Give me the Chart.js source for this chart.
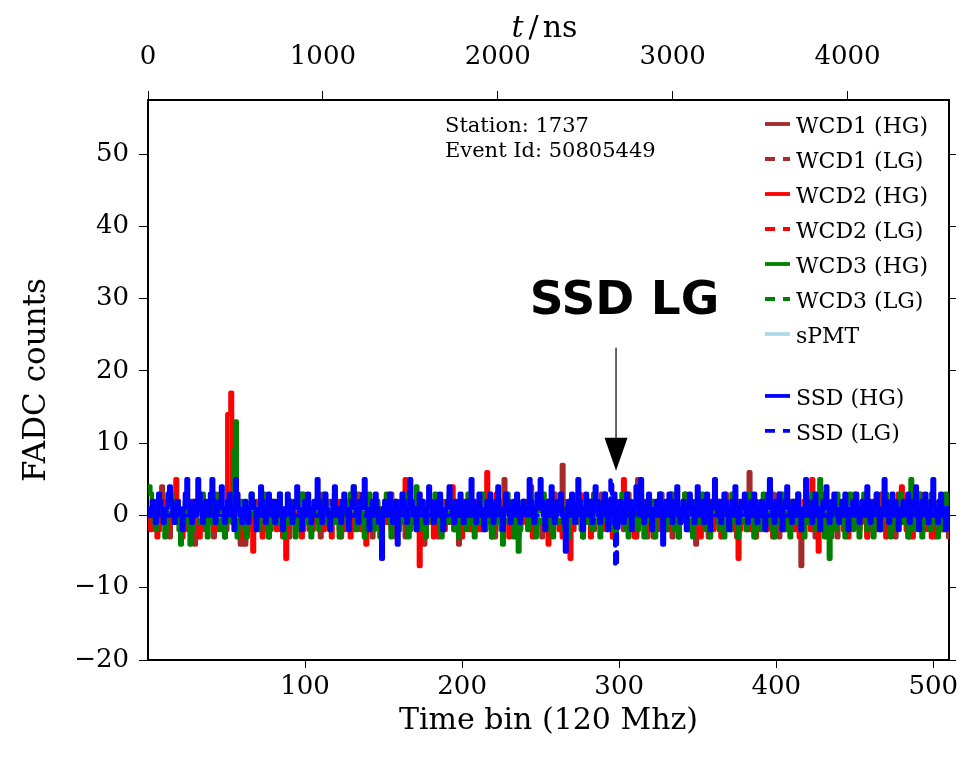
<!DOCTYPE html>
<html>
<head>
<meta charset="utf-8">
<script src="https://cdn.jsdelivr.net/npm/chart.js@4.4.1/dist/chart.umd.min.js"></script>
<style>
  html, body { margin: 0; padding: 0; background: #fff; }
  canvas { display: block; }
</style>
</head>
<body>
<canvas id="trace" width="978" height="757"></canvas>
<script>
// FADC traces, one value per 120 MHz time bin (bins 1..510)
const wcd1Hg = [
  0,-1,-1,1,2,0,-2,1,4,1,0,-1,-2,-3,-1,0,1,1,2,0,-1,0,-2,-2,1,0,-1,2,1,-4,
  -1,0,1,2,1,-1,-2,0,0,1,-1,-3,-2,0,1,3,1,0,-1,-2,0,1,0,-1,2,1,-1,-2,-4,-1,
  0,-4,-1,1,0,2,1,-1,-2,-1,0,2,3,1,0,-1,-3,-2,0,1,-1,0,2,1,-2,-1,0,1,-1,-3,
  -1,1,2,0,-1,-2,0,1,3,1,-1,0,-2,-1,1,0,2,1,-1,-3,-2,0,1,0,-1,2,2,0,-1,1,
  0,-2,-3,-1,0,1,2,1,-1,0,-2,-1,1,3,2,0,-1,-2,0,1,1,-1,-3,-1,0,2,1,0,-2,-1,
  1,0,-1,2,3,1,-1,-2,0,-1,1,2,0,-3,-1,0,1,-1,2,1,0,-2,-1,1,0,-4,-2,0,2,1,
  -1,0,1,-2,-3,-1,0,2,1,0,-1,1,3,0,-2,-1,1,-4,-1,0,2,1,-1,0,-2,-1,1,2,0,-1,
  1,-1,-2,0,1,3,1,-1,0,-2,-3,-1,1,2,0,-1,5,1,-1,0,-2,1,2,0,-1,-3,-1,0,1,2,
  0,-1,1,4,1,-1,-2,0,1,-1,-3,-2,0,1,2,0,-1,1,3,1,-1,0,-2,7,2,-1,-3,0,1,-1,
  -2,0,1,2,0,-1,-3,-1,1,0,2,1,-1,-2,0,1,-1,2,3,0,-1,-2,0,1,-1,-3,0,2,1,-1,
  0,1,-2,-1,2,3,0,-1,1,-2,-3,5,1,-1,0,2,-1,-3,-1,0,1,2,0,-2,-1,1,3,0,-1,-2,
  0,1,-1,-3,-2,0,2,1,-1,0,1,3,1,-1,-2,0,1,-1,-4,-1,1,2,0,-1,1,-2,-3,0,2,1,
  -1,0,2,1,-2,-1,0,3,1,-1,-2,0,1,-1,-3,0,2,1,-1,0,1,-2,6,2,0,-1,-3,-1,1,0,
  2,1,-1,-2,0,1,-1,3,1,0,-2,-3,-1,1,0,2,-1,0,1,-2,-1,1,2,0,-3,-7,-1,1,0,-1,
  1,2,0,-1,-3,-2,0,1,3,1,-1,0,-2,-1,1,2,0,-1,-3,0,1,-1,2,1,-1,-2,0,1,-1,3,
  1,0,-2,-1,1,2,0,-3,-1,0,2,1,-1,-2,0,1,3,0,-1,-2,1,0,-1,2,1,-3,-1,0,2,0,
  -1,1,0,-2,-3,0,2,1,-1,0,1,3,1,-1,-2,0,-1,2,1,0,-3,-1,1,2,0,-1,-2,1,0,-3
];
const wcd2Hg = [
  -1,-2,0,1,-1,-3,-2,0,1,2,0,-1,-2,-1,1,0,2,5,1,-1,-2,-3,-1,0,1,-1,-2,0,2,1,
  0,-1,-3,-2,0,1,-1,0,2,1,-1,-2,0,-1,1,2,0,-2,-3,-1,14,14,17,2,-1,-2,0,1,-1,-3,
  -2,0,1,-1,0,-2,-5,-1,1,2,0,-1,-3,-2,0,1,-1,0,2,1,-1,-2,0,1,-1,-3,-2,-6,-1,1,
  2,0,-1,-2,-1,1,0,-3,-2,0,1,2,1,-1,-2,0,-1,1,3,0,-1,-2,-1,0,1,-1,-3,0,1,-1,
  0,2,1,-1,-2,0,-1,1,-3,-2,0,1,2,0,-1,-2,1,0,-4,-1,1,0,-2,-1,2,1,-1,-3,0,1,
  -1,0,2,1,-2,-1,0,-3,-1,1,2,0,-1,5,1,-2,-1,0,1,-1,-2,0,-7,-1,1,0,-2,-1,2,0,
  -1,-3,-2,0,1,2,0,-1,-2,0,1,-1,3,4,0,-2,-1,1,0,-3,-1,0,2,1,-1,-2,0,1,-1,0,
  -2,1,0,-1,2,6,1,-1,-3,-2,0,3,1,-1,0,-2,-1,1,0,-3,-2,0,1,2,-1,0,-2,-1,1,0,
  -1,2,1,-2,-3,0,1,-1,0,2,1,-1,-2,0,-4,-1,1,0,2,1,-1,-2,0,-3,-1,1,0,-1,-6,-2,
  0,1,-1,2,3,0,-2,-1,1,0,-1,-3,-2,0,1,2,0,-1,-2,1,0,-1,2,1,-1,-3,-2,0,1,-1,
  0,2,5,1,-1,-2,0,-1,1,-3,-2,0,1,2,-1,0,-2,-1,1,0,-1,-3,0,2,1,-1,-2,0,1,-1,
  -2,0,1,3,0,-1,-2,-3,-1,1,0,2,1,-1,-2,0,-1,1,2,0,-1,-3,-2,0,1,-1,0,2,1,-2,
  -1,0,1,-2,-3,-1,2,1,0,-1,0,-2,1,2,-1,-6,-2,0,1,-1,0,2,1,-2,-1,0,-3,-1,1,0,
  2,1,-1,-2,0,1,-1,-3,-2,0,1,3,0,-1,-2,1,0,-1,2,1,-1,-2,0,1,-3,-1,0,2,1,-1,
  0,-2,5,1,-1,0,-5,-2,0,1,2,0,-1,-3,-1,1,0,-2,1,2,0,-1,-2,0,1,-3,-1,0,2,1,
  -1,0,-2,1,2,0,-1,-3,-2,0,1,-1,2,1,-1,-2,0,1,-1,-3,0,1,2,0,-1,-2,1,3,0,4,
  1,-1,-2,0,1,-1,-3,-2,0,2,1,-1,0,-2,1,2,0,-1,-3,-1,0,1,-1,2,0,-2,-1,1,0,-2
];
const wcd3Hg = [
  4,3,1,-1,-2,0,1,2,0,-1,-3,-2,0,1,3,2,0,-1,1,-2,-4,-1,0,2,1,-1,-4,-2,0,1,
  2,0,-1,1,3,1,-2,-3,0,1,-1,2,3,0,-1,-2,1,0,-3,-1,1,2,0,-1,9,13,-3,-1,1,2,
  0,-2,-3,-1,1,3,2,0,-1,1,-2,0,2,3,1,-1,-3,-2,0,1,2,0,-1,3,1,-2,-3,0,1,-1,
  2,1,-1,-3,-2,0,1,3,1,-1,0,2,-1,-3,0,1,2,0,-2,-1,1,3,2,-1,0,-2,1,-1,3,0,
  -1,-3,-2,0,2,1,-1,0,3,1,4,0,-2,-1,1,2,-1,-3,0,1,3,1,-1,-2,0,2,1,-3,-1,0,
  2,3,0,-1,-3,1,0,2,1,-2,-1,0,3,2,-1,-3,-2,1,0,2,4,1,-1,-2,0,1,-3,-1,2,0,
  1,-1,3,2,0,-2,-3,1,0,-1,2,3,1,-1,-2,0,1,-3,-1,2,1,0,-2,3,2,-1,0,-3,1,0,
  -1,2,3,0,-2,-1,1,0,-3,-1,2,1,-1,0,-2,-4,-1,1,3,2,0,-1,-3,1,0,-5,-2,1,2,0,
  1,-2,0,3,1,-1,-3,0,2,1,-1,3,0,-2,-1,1,2,-3,0,1,-1,2,3,0,-2,1,-1,-3,0,2,
  1,-1,0,3,2,-2,-3,0,1,-1,2,0,-2,3,1,-1,0,-3,-1,2,3,1,-1,0,-2,2,1,-3,0,1,
  -1,3,2,0,-2,-3,1,0,-1,2,1,-2,0,3,-1,-3,1,2,0,-1,2,-2,-3,0,1,3,1,-1,0,-2,
  1,0,3,-1,-2,2,1,-3,-1,0,2,3,0,-2,-1,1,-3,0,2,1,-1,0,3,2,-2,-1,1,-3,0,2,
  3,1,-1,-2,0,2,-3,-1,1,0,-2,3,2,0,-1,-3,1,0,2,-1,-2,1,3,0,-1,-3,2,1,0,-2,
  1,3,0,-1,2,5,1,-2,-3,0,1,-1,2,3,0,-2,-1,1,-3,0,2,1,-1,3,0,-2,1,-3,-1,2,
  0,-1,3,1,-2,0,2,5,1,-1,-3,0,2,-6,-3,1,0,-2,3,1,-1,0,2,-3,-1,1,3,0,-2,1,
  2,-1,-3,0,1,3,2,-2,-1,0,1,-3,2,3,0,-1,-2,1,0,3,1,-1,-3,0,2,1,-2,0,3,1,
  -1,0,2,-3,1,5,0,-2,-1,1,3,0,-3,-1,2,1,0,-2,3,1,-1,0,-3,2,1,-2,0,3,1,-1
];
const ssdHg = [
  1,0,2,1,-1,0,3,2,1,-1,0,1,3,4,2,0,-1,1,2,1,0,-2,1,3,5,2,0,-1,1,2,
  0,5,3,1,-1,0,2,1,0,3,5,2,-1,0,1,2,4,1,-1,0,2,3,1,0,-2,5,3,1,0,-1,
  1,2,0,-1,1,3,2,1,-2,0,1,4,2,0,-1,1,3,1,0,2,-1,0,2,3,1,-2,0,1,3,2,
  0,-1,1,2,4,1,0,-2,1,2,0,3,1,-1,0,2,1,5,2,0,-1,1,3,1,0,-2,0,2,4,1,
  0,1,-1,2,3,1,0,-2,1,2,4,1,0,-1,2,1,3,5,1,0,-2,1,2,0,3,1,-1,0,-6,1,
  2,0,1,3,1,-1,0,2,-4,0,1,3,2,0,-1,1,5,2,0,1,-2,0,3,1,2,0,-1,1,4,2,
  0,-1,1,2,0,3,1,-2,0,1,2,4,1,0,-1,2,1,0,3,1,-1,0,2,1,0,5,2,0,-1,1,
  3,1,0,-2,1,2,0,3,1,-1,0,2,4,1,0,-2,1,3,2,0,-1,1,2,0,3,1,-1,0,2,1,
  0,1,5,2,0,-1,1,3,1,5,2,0,-2,1,2,0,4,1,-1,0,2,1,3,0,-1,-5,1,2,0,3,
  1,-1,0,5,2,0,-2,1,3,1,0,2,-1,1,4,2,0,-1,1,2,3,0,-2,1,2,0,3,1,-1,0,
  2,1,-1,0,3,1,2,-2,0,1,4,2,0,5,1,-1,0,2,3,1,-2,0,1,2,0,3,1,-4,0,2,
  1,3,0,-1,2,1,4,0,-1,1,2,0,-2,1,3,2,0,-1,1,4,1,0,2,-1,1,3,0,-2,1,2,
  5,1,0,2,-1,1,3,2,0,-2,1,2,0,4,1,-1,0,2,1,3,0,-1,1,2,0,3,2,-1,0,1,
  2,0,-2,1,3,5,1,0,-1,2,1,3,0,-2,1,2,4,1,0,-1,2,1,0,3,1,-2,0,1,5,2,
  0,1,-1,2,3,0,1,-2,0,2,1,4,1,-1,0,2,3,1,0,-1,1,2,0,3,1,-2,0,1,2,0,
  3,1,-1,0,2,1,0,4,2,-1,1,0,2,3,1,-2,0,1,5,2,0,-1,1,3,0,2,1,-2,0,1,
  2,0,1,3,-1,0,2,1,4,0,-2,1,2,0,3,1,-1,0,2,5,1,0,-1,2,3,0,1,-2,1,0
];
// low-gain channels and the small PMT stay near the baseline, sampled sparsely
const lgBins = [1, 64, 128, 192, 256, 320, 384, 448, 510];
const wcd1Lg = [0, 0, 0, 0, 0, 0, 0, 0, 0];
const wcd2Lg = [0, 0, 0, 0, 0, 0, 0, 0, 0];
const wcd3Lg = [0, 0, 0, 0, 0, 0, 0, 0, 0];
const spmtBins = [1, 40, 80, 120, 160, 200, 240, 280, 320, 360, 400, 440, 480, 510];
const spmt = [1, 0, 1, 1, 0, 1, 0, 0, 1, 0, 1, 1, 0, 1];
const ssdLgBins = [1, 100, 200, 290, 294, 295, 296, 297, 298, 299, 300, 304, 400, 510];
const ssdLg = [0, 0, 0, 0, 1, 5, 3, -1, -7, -2, 0, 0, 0, 0];

const binTicks = [100, 200, 300, 400, 500];
const nsTicks = [0, 1000, 2000, 3000, 4000];
const countTicks = [-20, -10, 0, 10, 20, 30, 40, 50];
const infoLines = ["Station: 1737", "Event Id: 50805449"];
const arrowBin = 298, arrowFrom = 23.2, arrowTo = 6.2;
const noteBin = 303.4, noteY = 27.9;

const serif = '"DejaVu Serif", serif';
Chart.defaults.font.family = serif;
Chart.defaults.color = "#000";

const full = (vals) => vals.map((v, i) => ({ x: i + 1, y: v }));
const sparse = (bins, vals) => vals.map((v, i) => ({ x: bins[i], y: v }));

const series = [
  { label: "WCD1 (HG)", data: full(wcd1Hg), color: "#a52a2a" },
  { label: "WCD1 (LG)", data: sparse(lgBins, wcd1Lg), color: "#a52a2a", dash: true },
  { label: "WCD2 (HG)", data: full(wcd2Hg), color: "#ff0000" },
  { label: "WCD2 (LG)", data: sparse(lgBins, wcd2Lg), color: "#ff0000", dash: true },
  { label: "WCD3 (HG)", data: full(wcd3Hg), color: "#008000" },
  { label: "WCD3 (LG)", data: sparse(lgBins, wcd3Lg), color: "#008000", dash: true },
  { label: "sPMT", data: sparse(spmtBins, spmt), color: "#add8e6" },
  { label: "SSD (HG)", data: full(ssdHg), color: "#0000ff" },
  { label: "SSD (LG)", data: sparse(ssdLgBins, ssdLg), color: "#0000ff", dash: true },
];

const axisGrid = (len) => ({
  drawOnChartArea: false, drawTicks: true, tickLength: len, tickColor: "#000", tickWidth: 1,
});
const axisBorder = { display: true, color: "#000", width: 2 };
const plain = (v) => String(v).replace("-", "\u2212");

// texts, legend and the arrow drawn on top of the plot
const overlay = {
  id: "overlay",
  afterDraw(chart) {
    const { ctx, chartArea: a, scales } = chart;
    const x = scales.x, y = scales.y;
    ctx.save();
    ctx.fillStyle = "#000";
    ctx.textBaseline = "alphabetic";

    // top axis title: t / ns
    ctx.font = "italic 30px " + serif;
    const w1 = ctx.measureText("t").width;
    ctx.font = "30px " + serif;
    const w2 = ctx.measureText("/").width;
    const w3 = ctx.measureText("ns").width;
    let tx = (a.left + a.right) / 2 - 4 - (w1 + w2 + w3 + 9) / 2;
    ctx.textAlign = "left";
    ctx.font = "italic 30px " + serif;
    ctx.fillText("t", tx, 37);
    tx += w1 + 5;
    ctx.font = "30px " + serif;
    ctx.fillText("/", tx, 37);
    tx += w2 + 4;
    ctx.fillText("ns", tx, 37);

    // station info
    ctx.font = "21px " + serif;
    infoLines.forEach((t, i) => ctx.fillText(t, a.left + 297, a.top + 32 + i * 25));

    // legend
    let row = 0;
    chart.data.datasets.forEach((ds, i) => {
      if (i === 7) row += 0.77;
      const by = a.top + 33 + row * 35;
      ctx.strokeStyle = ds.borderColor;
      ctx.lineWidth = 3.8;
      ctx.setLineDash(ds.borderDash || []);
      ctx.beginPath();
      ctx.moveTo(a.right - 184, by - 9);
      ctx.lineTo(a.right - 159, by - 9);
      ctx.stroke();
      ctx.setLineDash([]);
      ctx.font = "22px " + serif;
      ctx.fillText(ds.label, a.right - 153, by);
      row++;
    });

    // SSD LG annotation
    const ax = x.getPixelForValue(arrowBin);
    const yTail = y.getPixelForValue(arrowFrom);
    const yTip = y.getPixelForValue(arrowTo);
    ctx.strokeStyle = "#000";
    ctx.lineWidth = 1.2;
    ctx.beginPath();
    ctx.moveTo(ax, yTail);
    ctx.lineTo(ax, yTip - 30);
    ctx.stroke();
    ctx.beginPath();
    ctx.moveTo(ax - 11.5, yTip - 33);
    ctx.lineTo(ax + 11.5, yTip - 33);
    ctx.lineTo(ax, yTip);
    ctx.closePath();
    ctx.fill();
    ctx.font = 'bold 47px "DejaVu Sans", sans-serif';
    ctx.textAlign = "center";
    ctx.fillText("SSD LG", x.getPixelForValue(noteBin), y.getPixelForValue(noteY));
    ctx.restore();
  },
};

new Chart(document.getElementById("trace"), {
  type: "line",
  data: {
    datasets: series.map((s, i) => ({
      label: s.label,
      data: s.data,
      borderColor: s.color,
      backgroundColor: s.color,
      borderWidth: 4.5,
      borderDash: s.dash ? [10, 8] : [],
      borderCapStyle: "round",
      borderJoinStyle: "round",
      stepped: "middle",
      pointRadius: 0,
      fill: false,
      order: series.length - i,
    })),
  },
  options: {
    responsive: false,
    animation: false,
    devicePixelRatio: 1,
    layout: { padding: 0 },
    plugins: { legend: { display: false }, tooltip: { enabled: false } },
    scales: {
      x: {
        type: "linear", position: "bottom", min: 0, max: 510,
        afterBuildTicks: (s) => { s.ticks = binTicks.map((v) => ({ value: v })); },
        afterFit: (s) => { s.height = 97; },
        grid: axisGrid(8), border: axisBorder,
        ticks: { font: { size: 26 }, padding: 4, maxRotation: 0, callback: plain },
        title: { display: true, text: "Time bin (120 Mhz)", font: { size: 30 }, padding: { top: 0, bottom: 18 } },
      },
      xTop: {
        type: "linear", position: "top", min: 0, max: 4580,
        afterBuildTicks: (s) => { s.ticks = nsTicks.map((v) => ({ value: v })); },
        afterFit: (s) => { s.height = 100; },
        grid: axisGrid(9), border: axisBorder,
        ticks: { font: { size: 26 }, padding: 18, maxRotation: 0, callback: plain },
      },
      y: {
        type: "linear", position: "left", min: -20, max: 57.5,
        afterBuildTicks: (s) => { s.ticks = countTicks.map((v) => ({ value: v })); },
        afterFit: (s) => { s.width = 148; },
        grid: axisGrid(9), border: axisBorder,
        ticks: { font: { size: 26 }, padding: 10, callback: plain },
        title: { display: true, text: "FADC counts", font: { size: 31 }, padding: { top: 18, bottom: 0 } },
      },
      yRight: {
        type: "linear", position: "right", min: -20, max: 57.5,
        afterBuildTicks: (s) => { s.ticks = countTicks.map((v) => ({ value: v })); },
        afterFit: (s) => { s.width = 29; },
        grid: axisGrid(7), border: axisBorder,
        ticks: { display: false },
      },
    },
  },
  plugins: [overlay],
});
</script>
</body>
</html>
